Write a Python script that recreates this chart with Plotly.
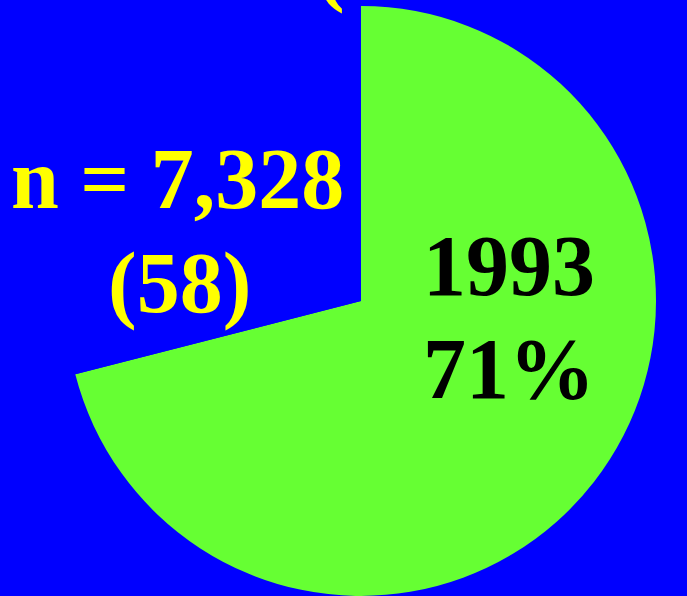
import plotly.graph_objects as go

# Data
slice_labels = ["1993", "Other"]
slice_values = [71, 29]
slice_colors = ["#66FF33", "#0000FF"]
center_label = ["1993", "71%"]
n_label = ["n = 7,328", "(58)"]

W, H = 687, 596
BG = "#0000FF"

fig = go.Figure()
fig.add_trace(go.Pie(
    labels=slice_labels,
    values=slice_values,
    sort=False,
    direction="clockwise",
    rotation=0,
    marker=dict(colors=slice_colors, line=dict(width=0)),
    textinfo="none",
    hoverinfo="skip",
    showlegend=False,
    domain=dict(x=[(361 - 295) / W, (361 + 295) / W], y=[0, 0.99]),
))

font_family = "Times New Roman, Liberation Serif, serif"

def py(px):
    return 1 - px / H

ann = []
# slice label (black)
ann.append(dict(text=center_label[0], x=509 / W, y=py(266), xref="paper", yref="paper",
                showarrow=False, xanchor="center", yanchor="middle",
                font=dict(family=font_family, size=86, color="black", weight="bold")))
ann.append(dict(text=center_label[1], x=509 / W, y=py(369), xref="paper", yref="paper",
                showarrow=False, xanchor="center", yanchor="middle",
                font=dict(family=font_family, size=86, color="black", weight="bold")))
# n label (yellow)
ann.append(dict(text=n_label[0], x=178 / W, y=py(179), xref="paper", yref="paper",
                showarrow=False, xanchor="center", yanchor="middle",
                font=dict(family=font_family, size=86, color="#FFFF00", weight="bold")))
ann.append(dict(text=n_label[1], x=179 / W, y=py(283), xref="paper", yref="paper",
                showarrow=False, xanchor="center", yanchor="middle",
                font=dict(family=font_family, size=86, color="#FFFF00", weight="bold")))
# partially visible text at the top edge
ann.append(dict(text="(", x=330 / W, y=py(-34), xref="paper", yref="paper",
                showarrow=False, xanchor="center", yanchor="middle",
                font=dict(family=font_family, size=86, color="#FFFF00", weight="bold")))

fig.update_layout(
    width=W, height=H,
    margin=dict(l=0, r=0, t=0, b=0),
    paper_bgcolor=BG,
    plot_bgcolor=BG,
    annotations=ann,
)

fig.write_html("out.html", config={"displayModeBar": False})
